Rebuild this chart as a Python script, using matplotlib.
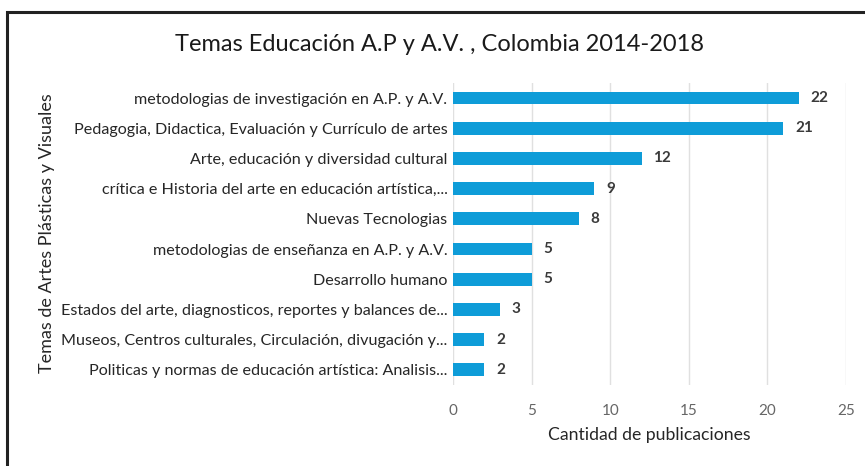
import matplotlib
matplotlib.use("Agg")
from matplotlib import pyplot as plt
from matplotlib.patches import Rectangle

# categories from top to bottom
temas = [
    "metodologias de investigación en A.P. y A.V.",
    "Pedagogia, Didactica, Evaluación y Currículo de artes",
    "Arte, educación y diversidad cultural",
    "crítica e Historia del arte en educación artística,...",
    "Nuevas Tecnologias",
    "metodologias de enseñanza en A.P. y A.V.",
    "Desarrollo humano",
    "Estados del arte, diagnosticos, reportes y balances de...",
    "Museos, Centros culturales, Circulación, divugación y...",
    "Politicas y normas de educación artística: Analisis...",
]
publicaciones = [22, 21, 12, 9, 8, 5, 5, 3, 2, 2]
x_ticks = [0, 5, 10, 15, 20, 25]

plt.rcParams['font.family'] = ['Lato', 'DejaVu Sans']

fig = plt.figure(figsize=(8.65, 4.66), dpi=100)
ax = fig.add_axes([0.5237, 0.174, 0.978 - 0.5237, 0.648])

pos = list(range(len(temas)))
ax.barh(pos, publicaciones, height=0.42, color='#0E9CD8')
ax.set_yticks(pos)
ax.set_yticklabels(temas, fontsize=11.6, color='#262626')
ax.set_ylim(len(temas) - 0.5, -0.5)

for p, v in zip(pos, publicaciones):
    ax.text(v + 0.75, p, str(v), va='center', ha='left', fontsize=11,
            fontweight='bold', color='#3a3a3a')

ax.set_xlim(0, 25)
ax.set_xticks(x_ticks)
ax.tick_params(axis='x', length=0, pad=14, labelsize=11, labelcolor='#666666')
ax.tick_params(axis='y', length=0, pad=4)
ax.grid(axis='x', color='#e0e0e0', linewidth=1)
ax.set_axisbelow(True)
for s in ax.spines.values():
    s.set_visible(False)

ax.set_xlabel("Cantidad de publicaciones", fontsize=12.7, color='#262626', labelpad=6)
fig.text(0.054, 0.5, "Temas de Artes Plásticas y Visuales", rotation=90,
         ha='center', va='center', fontsize=13, color='#262626')
fig.text(0.508, 0.905, "Temas Educación A.P y A.V. , Colombia 2014-2018",
         ha='center', va='center', fontsize=17, color='#1a1a1a')

# outer frame of the chart
fig.patches.append(Rectangle((0.008, -0.05), 1.1, 1 - 0.025 + 0.05,
                             transform=fig.transFigure, fill=False,
                             edgecolor='#222222', linewidth=2.2))

fig.savefig("out.png", dpi=100)
